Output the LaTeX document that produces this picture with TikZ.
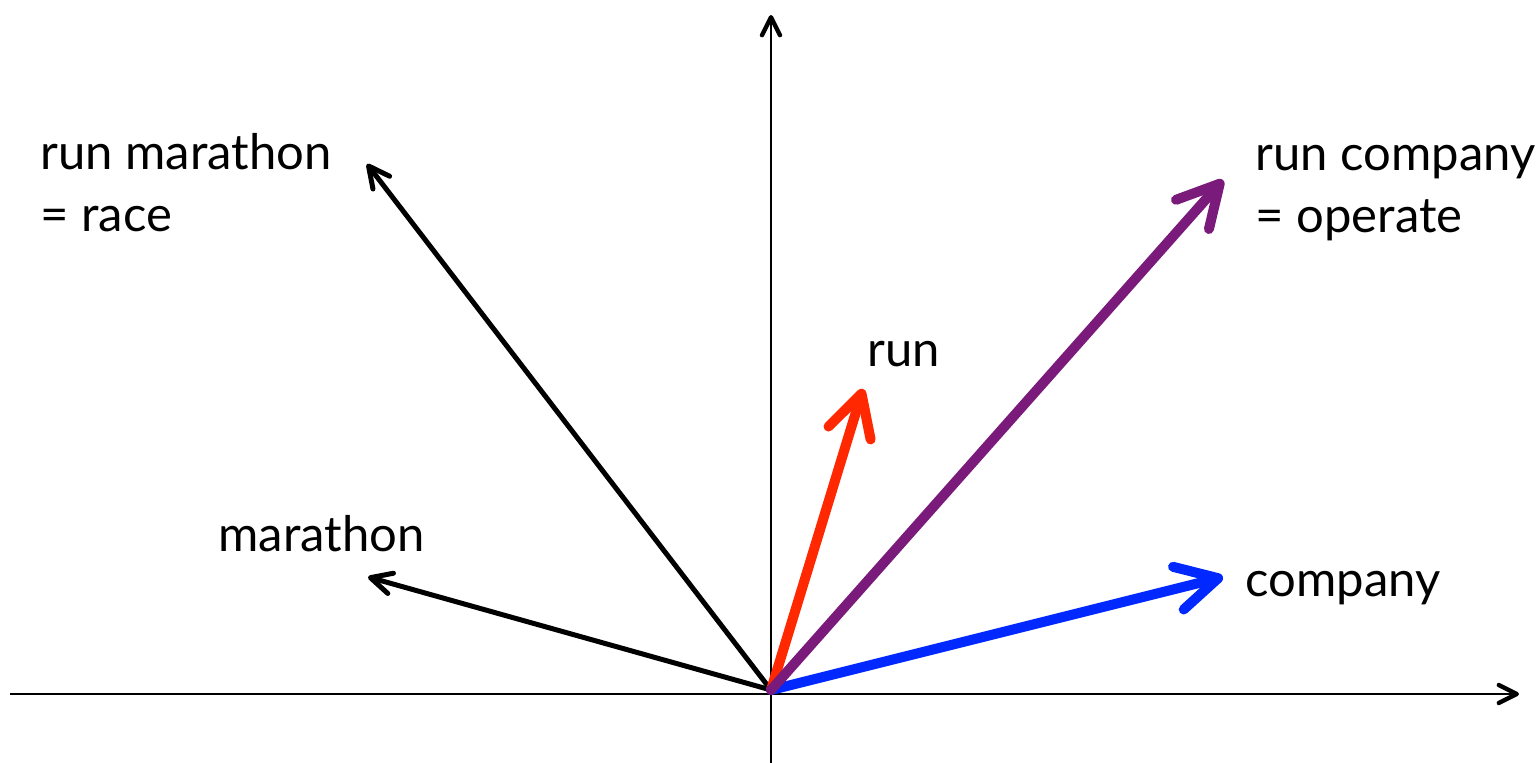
\documentclass[tikz,border=0pt]{standalone}
\usepackage{fontspec}
\setmainfont{Lato}
\usetikzlibrary{arrows.meta}
\definecolor{vred}{RGB}{255,40,0}
\definecolor{vpurple}{RGB}{122,26,122}
\definecolor{vblue}{RGB}{0,40,255}
\begin{document}
\begin{tikzpicture}[x=0.5pt,y=-0.5pt,
  axis/.style={line width=0.8pt,-{Straight Barb[length=9pt,width=9pt,line width=2.2pt,line cap=round,line join=round]}},
  thinvec/.style={line width=2.5pt,line cap=round,-{Straight Barb[length=10.5pt,width=10.5pt,line cap=round,line join=round]}},
  thickvec/.style={line width=5pt,line cap=round,-{Straight Barb[length=20.5pt,width=22pt,line cap=round,line join=round]}},
  lbl/.style={anchor=base west,inner sep=0pt,font=\fontsize{24.5}{31}\selectfont,align=left}]
\useasboundingbox (0,0) rectangle (1539,763);
\coordinate (xs) at (10,694);
\coordinate (xe) at (1519,694);
\coordinate (ys) at (771,763);
\coordinate (ye) at (771,15);
\coordinate (o) at (771,690);
\coordinate (rm) at (367,164);
\coordinate (m) at (368,577);
\coordinate (r) at (863,389);
\coordinate (rc) at (1223,180);
\coordinate (c) at (1223,577);
\draw[axis] (xs) -- (xe);
\draw[axis] (ys) -- (ye);
\draw[thinvec] (o) -- (rm);
\draw[thinvec] (o) -- (m);
\draw[thickvec,vred] (o) -- (r);
\draw[thickvec,vblue] (o) -- (c);
\draw[thickvec,vpurple] (o) -- (rc);
\node[lbl] (lrm) at (40,232) {run marathon\\= race};
\node[lbl] (lm) at (218,552) {marathon};
\node[lbl] (lr) at (867,367) {run};
\node[lbl] (lrc) at (1255,233) {run company\\= operate};
\node[lbl] (lc) at (1245,597) {company};
\end{tikzpicture}
\end{document}
